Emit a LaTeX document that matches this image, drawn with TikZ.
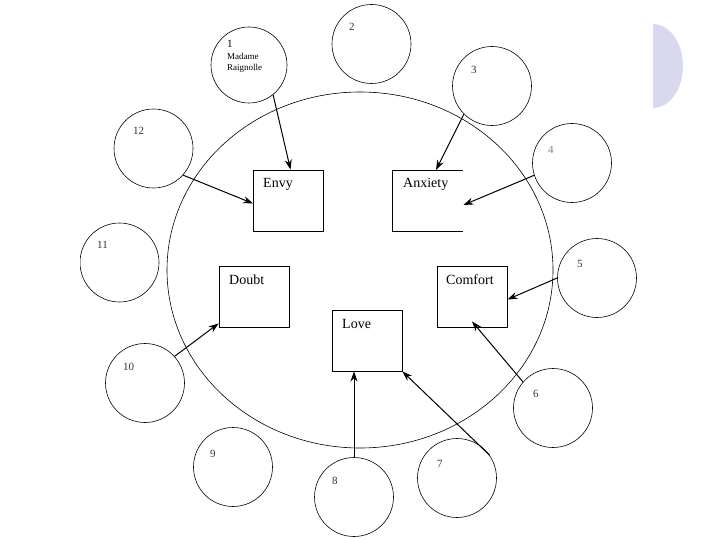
\documentclass[tikz,border=0pt]{standalone}
\usepackage{fontspec}
\setmainfont{Liberation Serif}
\usetikzlibrary{arrows.meta}
\definecolor{lav}{HTML}{D8D8EE}
\definecolor{numgray}{HTML}{333333}
\tikzset{
  smallc/.style={circle,draw,line width=0.6pt,minimum size=79pt,inner sep=0pt},
  boxn/.style={rectangle,draw,line width=0.9pt,inner sep=0pt,minimum width=70pt,minimum height=61pt},
  boxlabel/.style={anchor=base west,inner sep=0pt,font=\fontsize{14}{15}\selectfont},
  numlabel/.style={anchor=base west,inner sep=0pt,font=\fontsize{11}{12}\selectfont,text=numgray},
  smalltext/.style={anchor=base west,inner sep=0pt,font=\fontsize{9}{10}\selectfont},
  arr/.style={line width=1pt,-{Stealth[length=10pt,width=7pt]}}
}
\begin{document}
\begin{tikzpicture}[x=1pt,y=-1pt]
\useasboundingbox (0,0) rectangle (720,540);
% decoration
\fill[lav] (653,108) arc[start angle=90,end angle=-90,x radius=30,y radius=42] -- cycle;
% big circle
\draw[line width=0.6pt] (360,270) ellipse[x radius=193,y radius=178];
% small circles
\node[smallc,minimum size=76pt] (c1) at (249,65) {};
\node[smallc] (c2) at (371.5,44) {};
\node[smallc] (c3) at (492,86) {};
\node[smallc] (c4) at (572,163) {};
\node[smallc] (c5) at (597,278) {};
\node[smallc] (c6) at (553,408) {};
\node[smallc] (c7) at (457,478) {};
\node[smallc] (c8) at (354,497) {};
\node[smallc] (c9) at (233,467) {};
\node[smallc] (c10) at (145,383) {};
\begin{scope}
\clip (80,0) rectangle (720,540);
\node[smallc] (c11) at (119.5,262.5) {};
\end{scope}
\node[smallc] (c12) at (153.5,148.5) {};
% circle labels
\node[numlabel,text=black] (n1) at (227,48) {1};
\node[smalltext] (t1a) at (227,60) {Madame};
\node[smalltext] (t1b) at (227,71) {Raignolle};
\node[numlabel] (n2) at (349,31) {2};
\node[numlabel] (n3) at (471,74) {3};
\node[numlabel,text=gray] (n4) at (548,154) {4};
\node[numlabel] (n5) at (577,267) {5};
\node[numlabel] (n6) at (533,397) {6};
\node[numlabel] (n7) at (437,467) {7};
\node[numlabel] (n8) at (332,484) {8};
\node[numlabel] (n9) at (210,457) {9};
\node[numlabel] (n10) at (123,370) {10};
\node[numlabel] (n11) at (97,248) {11};
\node[numlabel] (n12) at (133,135) {12};
% boxes
\node[boxn] (envy) at (288.5,200.5) {};
\node[boxn,draw=none] (anx) at (428,201) {};
\draw[line width=0.9pt] (anx.north east) -- (anx.north west) -- (anx.south west) -- (anx.south east);
\node[boxn] (doubt) at (254,296.5) {};
\node[boxn] (comfort) at (472,296.5) {};
\node[boxn,minimum height=61pt] (love) at (367,340.5) {};
\node[boxlabel] (lenvy) at (263,188) {Envy};
\node[boxlabel] (lanx) at (403,188) {Anxiety};
\node[boxlabel] (ldoubt) at (229,284) {Doubt};
\node[boxlabel] (lcomfort) at (446,284) {Comfort};
\node[boxlabel] (llove) at (342,328) {Love};
% arrows
\draw[arr] (c1.-51) -- ([xshift=2pt]envy.north);
\draw[arr] (c3.-135) -- ([xshift=8pt]anx.north);
\draw[arr] (c4.-162) -- ([yshift=-4pt]anx.east);
\draw[arr] (c12.-42) -- ([yshift=-3pt]envy.west);
\draw[arr] (c5.180) -- ([yshift=-3pt]comfort.east);
\draw[arr] (c6.139) -- ([yshift=6pt]comfort.south);
\draw[arr] (c10.42) -- ([yshift=4pt]doubt.south west);
\draw[arr] (c8.90) -- ([xshift=-13pt]love.south);
\draw[arr] (c7.35) -- (love.south east);
\end{tikzpicture}
\end{document}
